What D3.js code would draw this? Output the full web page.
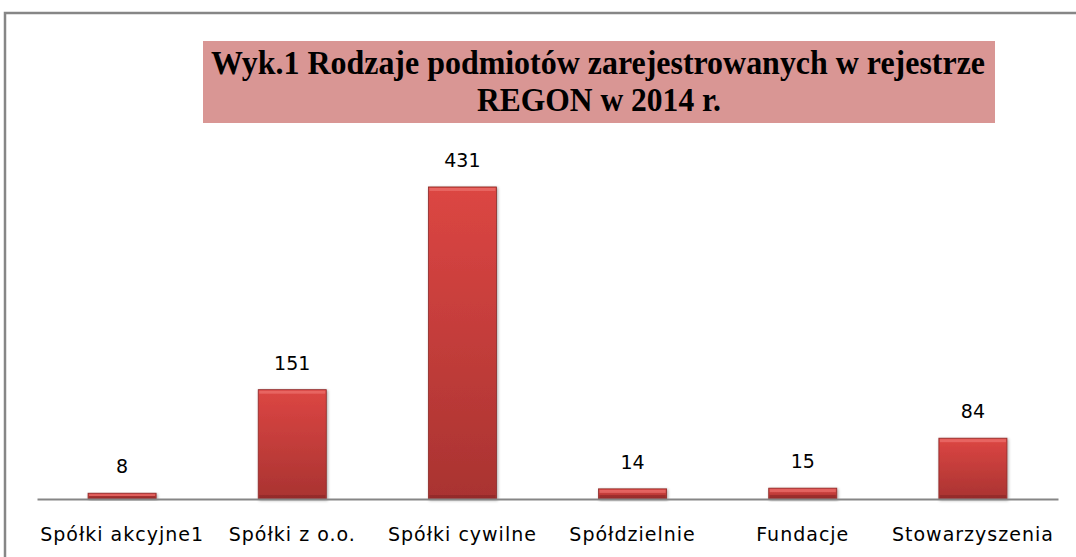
<!DOCTYPE html>
<html>
<head>
<meta charset="utf-8">
<script src="https://cdn.jsdelivr.net/npm/d3@7"></script>
<style>
  body { margin: 0; background: #fff; }
  svg { display: block; }
</style>
</head>
<body>
<div id="chart"></div>
<script>
// data
const categories = ["Spółki akcyjne1", "Spółki z o.o.", "Spółki cywilne", "Spółdzielnie", "Fundacje", "Stowarzyszenia"];
const values = [8, 151, 431, 14, 15, 84];
const titleLines = ["Wyk.1 Rodzaje podmiotów zarejestrowanych w rejestrze", "REGON w 2014 r."];

const width = 1076, height = 557;
const margin = { top: 137, right: 18, bottom: 58, left: 37 };
const labelFont = "'DejaVu Sans', 'Noto Sans', sans-serif";

const svg = d3.select("#chart")
    .append("svg")
    .attr("width", width)
    .attr("height", height);

const defs = svg.append("defs");
const grad = defs.append("linearGradient")
    .attr("id", "barGrad")
    .attr("x1", 0).attr("y1", 0).attr("x2", 0).attr("y2", 1);
grad.append("stop").attr("offset", "0%").attr("stop-color", "#dc4643");
grad.append("stop").attr("offset", "100%").attr("stop-color", "#a93331");

const shadow = defs.append("filter").attr("id", "shadow")
    .attr("x", "-20%").attr("y", "-20%").attr("width", "140%").attr("height", "140%");
shadow.append("feDropShadow")
    .attr("dx", 1).attr("dy", 1).attr("stdDeviation", 1.5)
    .attr("flood-color", "#000").attr("flood-opacity", 0.35);

// outer frame (runs off the right and bottom edge)
svg.append("rect")
    .attr("x", 5).attr("y", 13)
    .attr("width", 1090).attr("height", 560)
    .attr("fill", "none")
    .attr("stroke", "#868686")
    .attr("stroke-width", 2.5);

// title box
svg.append("rect")
    .attr("x", 203).attr("y", 41)
    .attr("width", 792).attr("height", 82)
    .attr("fill", "#d99694");

const title = svg.append("text")
    .attr("text-anchor", "middle")
    .style("font-family", "'Liberation Serif', 'DejaVu Serif', serif")
    .style("font-weight", "bold")
    .style("font-size", "33px")
    .attr("fill", "#000");
title.append("tspan").attr("x", 598).attr("y", 74)
    .attr("textLength", 774).attr("lengthAdjust", "spacingAndGlyphs")
    .text(titleLines[0]);
title.append("tspan").attr("x", 599).attr("y", 111)
    .attr("textLength", 244).attr("lengthAdjust", "spacingAndGlyphs")
    .text(titleLines[1]);

// scales
const x = d3.scaleBand()
    .domain(categories)
    .range([margin.left, width - margin.right])
    .paddingInner(0.6)
    .paddingOuter(0.3);

const y = d3.scaleLinear()
    .domain([0, 500])
    .range([height - margin.bottom, margin.top]);

// bars
const bars = svg.selectAll(".bar")
    .data(values)
    .enter().append("g")
    .attr("class", "bar");

bars.append("rect")
    .attr("x", (d, i) => x(categories[i]))
    .attr("y", d => y(d))
    .attr("width", x.bandwidth())
    .attr("height", d => y(0) - y(d))
    .attr("fill", "url(#barGrad)")
    .attr("stroke", "#8c2a28")
    .attr("stroke-width", 0.8)
    .attr("filter", "url(#shadow)");

// bevel highlight on top, darker band at bottom
bars.append("rect")
    .attr("x", (d, i) => x(categories[i]) + 1)
    .attr("y", d => y(d) + 1)
    .attr("width", x.bandwidth() - 2)
    .attr("height", d => Math.min(3, (y(0) - y(d)) / 3))
    .attr("fill", "#f07a76")
    .attr("opacity", 0.6);
bars.append("rect")
    .attr("x", (d, i) => x(categories[i]) + 1)
    .attr("y", d => y(0) - Math.min(3, (y(0) - y(d)) / 3) - 1)
    .attr("width", x.bandwidth() - 2)
    .attr("height", d => Math.min(3, (y(0) - y(d)) / 3))
    .attr("fill", "#7d2221")
    .attr("opacity", 0.45);

// value labels
bars.append("text")
    .attr("x", (d, i) => x(categories[i]) + x.bandwidth() / 2)
    .attr("y", d => y(d) - 20)
    .attr("text-anchor", "middle")
    .style("font-family", labelFont)
    .style("font-size", "19px")
    .attr("fill", "#000")
    .text(d => d);

// x axis
const xAxis = svg.append("g")
    .attr("transform", "translate(0," + y(0) + ")")
    .call(d3.axisBottom(x).tickSize(0).tickPadding(29));
xAxis.select(".domain")
    .attr("stroke", "#868686")
    .attr("stroke-width", 2);
xAxis.selectAll("text")
    .style("font-family", labelFont)
    .style("font-size", "19px")
    .style("letter-spacing", "1px")
    .attr("fill", "#000");
</script>
</body>
</html>
